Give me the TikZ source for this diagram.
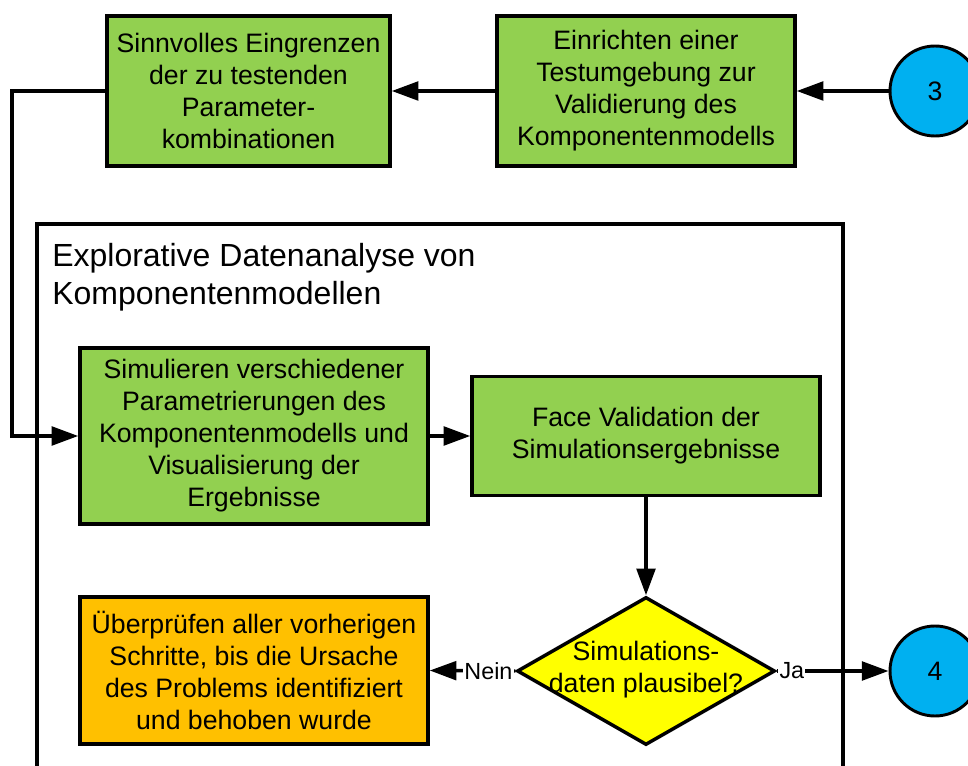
\documentclass[tikz,border=0pt]{standalone}
\usepackage{fontspec}
\setmainfont{Liberation Sans}
\usetikzlibrary{shapes.geometric,arrows.meta}
\definecolor{boxgreen}{HTML}{92D050}
\definecolor{boxorange}{HTML}{FFC000}
\definecolor{boxyellow}{HTML}{FFFF00}
\definecolor{circblue}{HTML}{00B0F0}
\tikzset{
  box/.style={draw=black, line width=2.6pt, align=center, inner sep=0pt,
    font=\fontsize{20}{24}\selectfont},
  conn/.style={line width=2.6pt, -{Triangle[length=20pt,width=14pt]}},
  plain/.style={line width=2.6pt},
  connector/.style={draw=black, circle, line width=2.2pt, fill=circblue,
    minimum size=67.5pt, inner sep=0pt, font=\fontsize{20}{24}\selectfont},
  lbl/.style={fill=white, inner sep=0.8pt, font=\fontsize{17.5}{20}\selectfont}
}
\begin{document}
\begin{tikzpicture}[x=0.75pt,y=-0.75pt]
\clip (0,0) rectangle (968,766);
\fill[white] (0,0) rectangle (968,766);
% container
\draw[plain] (37,800) -- (37,224) -- (843,224) -- (843,800);
\node[anchor=north west, inner sep=0pt, align=left,
  font=\fontsize{24}{28.5}\selectfont] (title) at (52,243)
  {Explorative Datenanalyse von\\Komponentenmodellen};
% boxes
\node[box, fill=boxgreen, minimum width=212.25pt, minimum height=112.5pt] (A) at (248.5,91)
  {Sinnvolles Eingrenzen\\der zu testenden\\Parameter-\\kombinationen};
\node[box, fill=boxgreen, minimum width=223.5pt, minimum height=112.5pt] (B) at (646,91)
  {Einrichten einer\\Testumgebung zur\\Validierung des\\Komponentenmodells};
\node[connector] (c3) at (935,91) {3};
\node[box, fill=boxgreen, minimum width=261pt, minimum height=132pt] (C) at (254,436)
  {Simulieren verschiedener\\Parametrierungen des\\Komponentenmodells und\\Visualisierung der\\Ergebnisse};
\node[box, fill=boxgreen, minimum width=261pt, minimum height=89.25pt] (D) at (646,436)
  {Face Validation der\\Simulationsergebnisse};
\node[box, fill=boxorange, minimum width=261pt, minimum height=110.25pt] (E) at (254,670.5)
  {Überprüfen aller vorherigen\\Schritte, bis die Ursache\\des Problems identifiziert\\und behoben wurde};
\node[diamond, draw=black, line width=2.6pt, fill=boxyellow, minimum width=193.5pt,
  minimum height=111pt, inner sep=0pt] (dia) at (646,671) {};
\node[align=center, inner sep=0pt, font=\fontsize{20}{24}\selectfont] (diatext) at (646,670)
  {Simulations-\\daten plausibel?};
\node[connector] (c4) at (935,671) {4};
% connectors
\coordinate (turn) at (12,91);
\draw[conn] (c3) -- (B);
\draw[conn] (B) -- (A);
\draw[conn] (A.west) -- (turn) |- (C.west);
\draw[conn] (C) -- (D);
\draw[conn] (D) -- (dia);
\draw[conn] (dia.west) -- node[lbl, pos=0, anchor=east] {Nein} (E.east);
\draw[conn] (dia.east) -- node[lbl, pos=0, anchor=west] {Ja} (c4);
\end{tikzpicture}
\end{document}
